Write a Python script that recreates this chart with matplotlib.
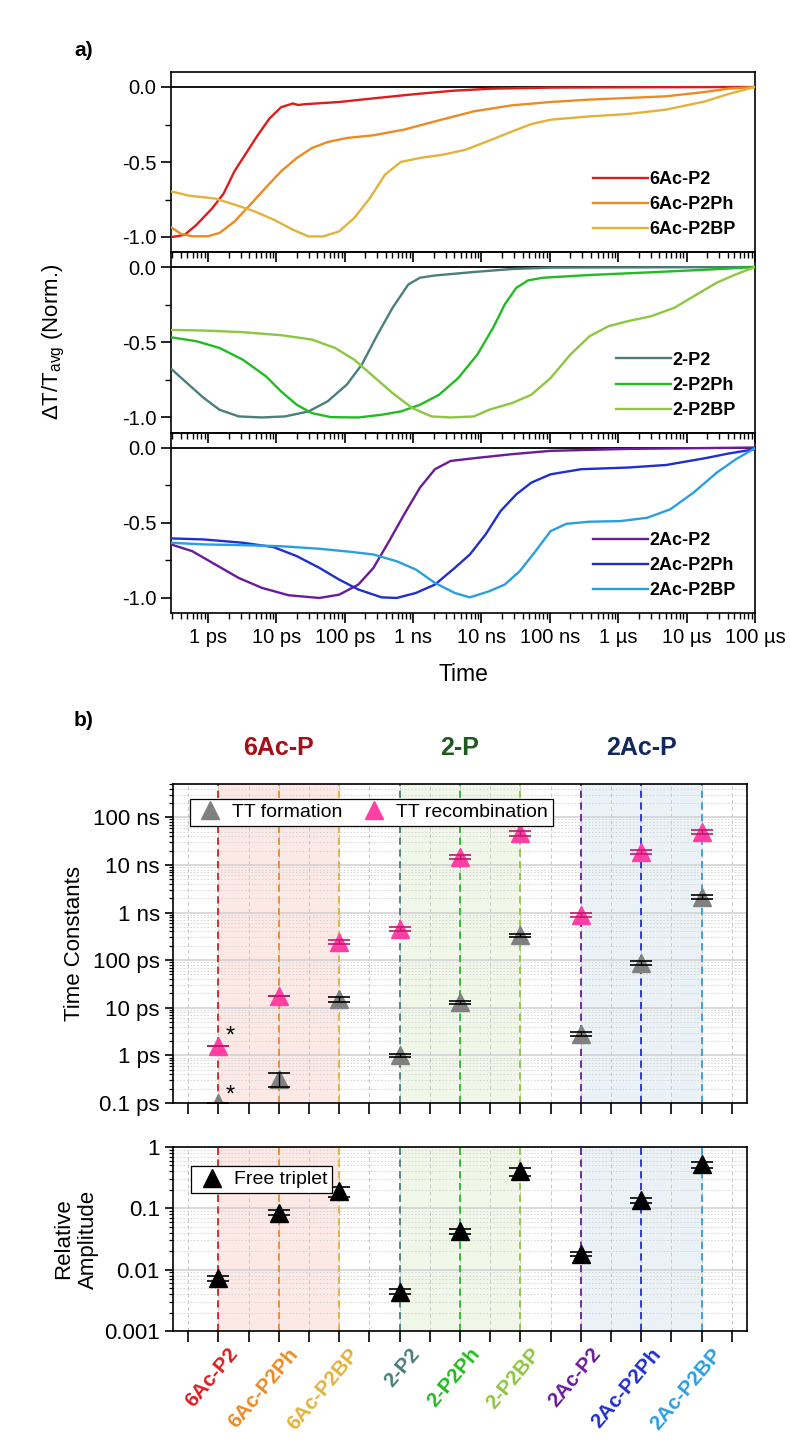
import numpy as np
import matplotlib
matplotlib.use("Agg")
import matplotlib.pyplot as plt
from matplotlib.ticker import FixedLocator, LogLocator, NullFormatter, MultipleLocator
from matplotlib.transforms import blended_transform_factory

# ============================================================
# DATA  (a) normalised kinetics, time as log10(t / ps)
# ============================================================

lt_6ac_p2 = [-0.54, -0.45, -0.34, -0.17, 0.06, 0.23, 0.39, 0.56, 0.73, 0.90, 1.07, 1.24, 1.32,
             1.41, 1.92, 2.48, 3.04, 3.61, 4.17, 5.01, 6.14, 8.0]
v_6ac_p2 = [-1.0, -0.995, -0.985, -0.92, -0.81, -0.71, -0.56, -0.44, -0.32, -0.21, -0.135, -0.11,
            -0.12, -0.115, -0.10, -0.073, -0.047, -0.024, -0.011, -0.004, -0.002, 0.0]

lt_6ac_p2ph = [-0.54, -0.39, -0.23, 0.0, 0.17, 0.39, 0.62, 0.85, 1.07, 1.30, 1.52, 1.75, 2.03,
               2.42, 2.87, 3.32, 3.89, 4.45, 5.01, 5.58, 6.14, 6.70, 7.27, 7.61, 8.0]
v_6ac_p2ph = [-0.935, -0.98, -0.995, -0.995, -0.973, -0.896, -0.784, -0.669, -0.562, -0.473,
              -0.407, -0.367, -0.34, -0.322, -0.284, -0.229, -0.162, -0.122, -0.10, -0.084,
              -0.073, -0.062, -0.033, -0.011, 0.0]

lt_6ac_p2bp = [-0.54, -0.28, 0.11, 0.39, 0.68, 0.96, 1.24, 1.47, 1.69, 1.92, 2.14, 2.37, 2.59,
               2.82, 3.10, 3.44, 3.77, 4.11, 4.45, 4.73, 5.01, 5.58, 6.14, 6.70, 7.27, 7.61, 8.0]
v_6ac_p2bp = [-0.696, -0.724, -0.744, -0.784, -0.829, -0.884, -0.951, -0.996, -0.996, -0.962,
              -0.873, -0.74, -0.584, -0.50, -0.473, -0.451, -0.418, -0.358, -0.296, -0.247,
              -0.218, -0.196, -0.18, -0.151, -0.096, -0.047, 0.0]

lt_2_p2 = [-0.54, -0.28, -0.06, 0.17, 0.45, 0.79, 1.13, 1.47, 1.75, 2.03, 2.25, 2.48, 2.70,
           2.93, 3.10, 3.32, 3.89, 4.45, 5.01, 8.0]
v_2_p2 = [-0.676, -0.782, -0.871, -0.949, -0.993, -1.0, -0.993, -0.96, -0.893, -0.782, -0.649,
          -0.449, -0.271, -0.116, -0.071, -0.056, -0.033, -0.013, -0.004, 0.0]

lt_2_p2ph = [-0.54, -0.17, 0.17, 0.51, 0.85, 1.07, 1.30, 1.52, 1.80, 2.20, 2.54, 2.82, 3.10,
             3.38, 3.66, 3.94, 4.17, 4.34, 4.51, 4.68, 4.90, 5.58, 6.42, 7.27, 8.0]
v_2_p2ph = [-0.467, -0.493, -0.538, -0.616, -0.727, -0.827, -0.916, -0.971, -0.998, -1.0,
            -0.982, -0.96, -0.916, -0.849, -0.738, -0.582, -0.404, -0.249, -0.138, -0.089,
            -0.071, -0.053, -0.036, -0.018, 0.0]

lt_2_p2bp = [-0.54, -0.06, 0.51, 1.07, 1.52, 1.86, 2.14, 2.42, 2.70, 2.99, 3.27, 3.55, 3.89,
             4.11, 4.45, 4.73, 5.01, 5.30, 5.58, 5.86, 6.14, 6.48, 6.82, 7.15, 7.44, 7.72, 8.0]
v_2_p2bp = [-0.418, -0.422, -0.433, -0.453, -0.482, -0.538, -0.616, -0.727, -0.838, -0.938,
            -0.993, -1.0, -0.993, -0.949, -0.904, -0.849, -0.738, -0.582, -0.46, -0.393,
            -0.36, -0.327, -0.271, -0.182, -0.104, -0.049, 0.0]

lt_2ac_p2 = [-0.54, -0.23, 0.11, 0.45, 0.79, 1.18, 1.63, 1.92, 2.20, 2.42, 2.65, 2.87, 3.10,
             3.32, 3.55, 3.89, 4.45, 5.01, 6.14, 8.0]
v_2ac_p2 = [-0.644, -0.689, -0.778, -0.867, -0.933, -0.982, -1.0, -0.978, -0.911, -0.80,
            -0.622, -0.444, -0.267, -0.144, -0.089, -0.071, -0.044, -0.022, -0.009, 0.0]

lt_2ac_p2ph = [-0.54, -0.06, 0.51, 0.96, 1.30, 1.63, 1.92, 2.20, 2.54, 2.76, 3.04, 3.32, 3.61,
               3.83, 4.06, 4.28, 4.51, 4.73, 5.01, 5.46, 6.14, 6.70, 7.27, 7.61, 8.0]
v_2ac_p2ph = [-0.604, -0.611, -0.633, -0.662, -0.722, -0.80, -0.878, -0.944, -0.996, -1.0,
              -0.967, -0.911, -0.80, -0.711, -0.578, -0.422, -0.311, -0.233, -0.178, -0.144,
              -0.133, -0.116, -0.071, -0.04, -0.011]

lt_2ac_p2bp = [-0.54, -0.06, 0.51, 1.07, 1.63, 2.08, 2.42, 2.76, 3.04, 3.32, 3.61, 3.83, 4.11,
               4.34, 4.56, 4.79, 5.01, 5.24, 5.58, 6.03, 6.42, 6.76, 7.10, 7.44, 7.72, 8.0]
v_2ac_p2bp = [-0.633, -0.644, -0.649, -0.656, -0.673, -0.693, -0.711, -0.756, -0.811, -0.90,
              -0.967, -0.996, -0.956, -0.911, -0.822, -0.689, -0.556, -0.507, -0.493, -0.489,
              -0.467, -0.411, -0.30, -0.167, -0.078, -0.004]

# ============================================================
# DATA  (b) fitted time constants (ps) and free triplet amplitude
# ============================================================

samples = ["6Ac-P2", "6Ac-P2Ph", "6Ac-P2BP", "2-P2", "2-P2Ph", "2-P2BP",
           "2Ac-P2", "2Ac-P2Ph", "2Ac-P2BP"]
colors = ["#dd1c1c", "#ec8a24", "#e2b23a", "#4a7f7c", "#22bb22", "#8dc63f",
          "#6a1b9a", "#1f2fcf", "#2a9fe0"]
groups = ["6Ac-P", "2-P", "2Ac-P"]
group_colors = ["#a50f15", "#1e5a1e", "#10285a"]
shade_colors = ["#fbd9d5", "#e6f0da", "#dde8f3"]

tt_form_ps = [0.1, 0.32, 15, 1.0, 13, 330, 2.8, 88, 2100]
tt_form_err = [0.0, 0.1, 1.5, 0.08, 1.2, 30, 0.3, 9, 200]
tt_recomb_ps = [1.55, 17.5, 240, 450, 14500, 46000, 880, 19000, 50000]
tt_recomb_err = [0.0, 0.0, 25, 40, 1500, 5000, 80, 2000, 5000]

free_amp = [0.0072, 0.085, 0.19, 0.0044, 0.042, 0.40, 0.018, 0.135, 0.52]
free_amp_err = [0.0007, 0.008, 0.035, 0.0004, 0.004, 0.06, 0.0015, 0.015, 0.06]

# ============================================================
# STYLE
# ============================================================

plt.rcParams["font.family"] = ["Liberation Sans", "DejaVu Sans"]
plt.rcParams["mathtext.default"] = "regular"
plt.rcParams["axes.linewidth"] = 1.2

W, H = 790, 1444
fig = plt.figure(figsize=(W / 100, H / 100), dpi=100)


def px_axes(x0, y0, x1, y1):
    return fig.add_axes([x0 / W, 1 - y1 / H, (x1 - x0) / W, (y1 - y0) / H])


# ============================================================
# (a) three stacked kinetic panels
# ============================================================

curves = [
    [(lt_6ac_p2, v_6ac_p2), (lt_6ac_p2ph, v_6ac_p2ph), (lt_6ac_p2bp, v_6ac_p2bp)],
    [(lt_2_p2, v_2_p2), (lt_2_p2ph, v_2_p2ph), (lt_2_p2bp, v_2_p2bp)],
    [(lt_2ac_p2, v_2ac_p2), (lt_2ac_p2ph, v_2ac_p2ph), (lt_2ac_p2bp, v_2ac_p2bp)],
]

tick_pos = [10.0 ** e for e in range(-12, -3)]
tick_lab = ["1 ps", "10 ps", "100 ps", "1 ns", "10 ns", "100 ns", "1 µs", "10 µs", "100 µs"]

panel_y = [(72, 252), (252, 432.5), (432.5, 613)]
axes_a = []
for k in range(3):
    y0, y1 = panel_y[k]
    ax = px_axes(171, y0, 755, y1)
    ax.patch.set_visible(False)
    ax.axhline(0, color="black", lw=1.3, zorder=1)
    for j in range(3):
        lt, v = curves[k][j]
        t = 10.0 ** (np.array(lt) - 12)
        ax.plot(t, v, color=colors[3 * k + j], lw=1.7, label=samples[3 * k + j], zorder=3)
    ax.set_xscale("log")
    ax.set_xlim(10 ** -12.54, 1e-4)
    ax.set_ylim(-1.1, 0.1)
    ax.xaxis.set_major_locator(FixedLocator(tick_pos))
    ax.xaxis.set_minor_locator(LogLocator(base=10, subs=np.arange(2, 10), numticks=20))
    ax.xaxis.set_minor_formatter(NullFormatter())
    ax.set_yticks([0.0, -0.5, -1.0])
    ax.yaxis.set_minor_locator(MultipleLocator(0.25))
    ax.tick_params(axis="both", which="major", direction="out", length=7, width=1.2,
                   labelsize=14.5)
    ax.tick_params(axis="both", which="minor", direction="out", length=4, width=1.0)
    ax.set_yticklabels(["0.0", "-0.5", "-1.0"])
    if k < 2:
        ax.set_xticklabels([])
    else:
        ax.set_xticklabels(tick_lab)
        ax.set_xlabel("Time", fontsize=16.5, labelpad=12)
    ax.legend(loc="lower right", bbox_to_anchor=(0.995, -0.015), frameon=False,
              handlelength=3.0, handletextpad=0.1, labelspacing=0.45,
              prop={"weight": "bold", "size": 13})
    axes_a.append(ax)

fig.text(54 / W, 1 - 342 / H, r"$\Delta$T/T$_{avg}$ (Norm.)", rotation=90,
         ha="center", va="center", fontsize=16)
fig.text(84 / W, 1 - 50 / H, "a)", fontsize=15, fontweight="bold", ha="center", va="center")
fig.text(84 / W, 1 - 720 / H, "b)", fontsize=15, fontweight="bold", ha="center", va="center")

# ============================================================
# (b) time constants + free triplet amplitude
# ============================================================

ax_tc = px_axes(173, 784, 747, 1103)
ax_am = px_axes(173, 1147, 747, 1331)
xpos = np.arange(1, len(samples) + 1)

for ax in (ax_tc, ax_am):
    for g in range(3):
        ax.axvspan(xpos[3 * g], xpos[3 * g + 2], color=shade_colors[g], alpha=0.6, lw=0, zorder=0)
    for i, c in enumerate(colors):
        ax.axvline(xpos[i], color=c, lw=1.3, ls=(0, (4, 2.5)), zorder=1)
    ax.set_xlim(0.25, 9.75)
    ax.set_yscale("log")
    ax.set_xticks(np.arange(0.5, 10.0, 0.5))
    ax.set_xticklabels([])
    ax.grid(True, axis="x", which="major", color="#c8c8c8", lw=0.7, ls=(0, (4, 3)), zorder=0.5)
    ax.grid(True, axis="y", which="major", color="#d0d0d0", lw=1.1, ls="-", zorder=0.5)
    ax.grid(True, axis="y", which="minor", color="#d4d4d4", lw=0.7, ls=(0, (1.5, 2)), zorder=0.5)
    ax.set_axisbelow(True)
    ax.tick_params(axis="x", which="major", direction="out", length=8, width=1.2)
    ax.tick_params(axis="y", which="major", direction="out", length=6, width=1.2, labelsize=16)
    ax.tick_params(axis="y", which="minor", direction="out", length=3, width=0.9)
    ax.yaxis.set_minor_formatter(NullFormatter())

# time constants
form_s = np.array(tt_form_ps) * 1e-12
recomb_s = np.array(tt_recomb_ps) * 1e-12
ax_tc.plot(xpos, form_s, ls="none", marker="^", ms=13, color="#808080", label="TT formation",
           zorder=3)
ax_tc.plot(xpos, recomb_s, ls="none", marker="^", ms=13, color="#ff3fa4",
           label="TT recombination", zorder=3)
ax_tc.errorbar(xpos, form_s, yerr=np.array(tt_form_err) * 1e-12, fmt="none", ecolor="black",
               elinewidth=1.0, capsize=8, capthick=1.2, zorder=4)
ax_tc.errorbar(xpos, recomb_s, yerr=np.array(tt_recomb_err) * 1e-12, fmt="none",
               ecolor="#c2186b", elinewidth=1.0, capsize=8, capthick=1.2, zorder=4)
ax_tc.text(xpos[0] + 0.2, recomb_s[0] * 1.6, "*", fontsize=17, ha="center", va="center")
ax_tc.text(xpos[0] + 0.2, form_s[0] * 1.45, "*", fontsize=17, ha="center", va="center")

ax_tc.set_ylim(1e-13, 5e-7)
ax_tc.yaxis.set_major_locator(FixedLocator([10.0 ** e for e in range(-13, -6)]))
ax_tc.yaxis.set_minor_locator(LogLocator(base=10, subs=np.arange(2, 10), numticks=20))
ax_tc.set_yticklabels(["0.1 ps", "1 ps", "10 ps", "100 ps", "1 ns", "10 ns", "100 ns"])
ax_tc.set_ylabel("Time Constants", fontsize=16, labelpad=6)
ax_tc.legend(loc="upper left", bbox_to_anchor=(0.012, 0.985), ncol=2, fancybox=False,
             edgecolor="black", framealpha=1, fontsize=14, handletextpad=0.35,
             columnspacing=0.8, borderpad=0.25, handlelength=1.6)
ax_tc.get_legend().get_frame().set_linewidth(0.9)

trans = blended_transform_factory(ax_tc.transData, fig.transFigure)
for g in range(3):
    ax_tc.text(xpos[3 * g + 1], 1 - 748 / H, groups[g], transform=trans, ha="center",
               va="center", fontsize=18, fontweight="bold", color=group_colors[g])

# free triplet amplitude
ax_am.plot(xpos, free_amp, ls="none", marker="^", ms=13, color="black", label="Free triplet",
           zorder=3)
ax_am.errorbar(xpos, free_amp, yerr=free_amp_err, fmt="none", ecolor="black",
               elinewidth=1.0, capsize=8, capthick=1.2, zorder=4)
ax_am.set_ylim(1e-3, 1)
ax_am.yaxis.set_major_locator(FixedLocator([1e-3, 1e-2, 1e-1, 1]))
ax_am.yaxis.set_minor_locator(LogLocator(base=10, subs=np.arange(2, 10), numticks=20))
ax_am.set_yticklabels(["0.001", "0.01", "0.1", "1"])
ax_am.set_ylabel("Relative\nAmplitude", fontsize=16, labelpad=4)
ax_am.legend(loc="upper left", bbox_to_anchor=(0.015, 0.95), fancybox=False,
             edgecolor="black", framealpha=1, fontsize=14, handletextpad=0.35, borderpad=0.25,
             handlelength=1.6)
ax_am.get_legend().get_frame().set_linewidth(0.9)

# category labels below the bottom panel
for i, name in enumerate(samples):
    ax_am.text(xpos[i] + 0.15, 10 ** -3.22, name, rotation=50,
               rotation_mode="anchor", ha="right", va="top", fontsize=15,
               fontweight="bold", color=colors[i])

fig.savefig("out.png", dpi=100)
